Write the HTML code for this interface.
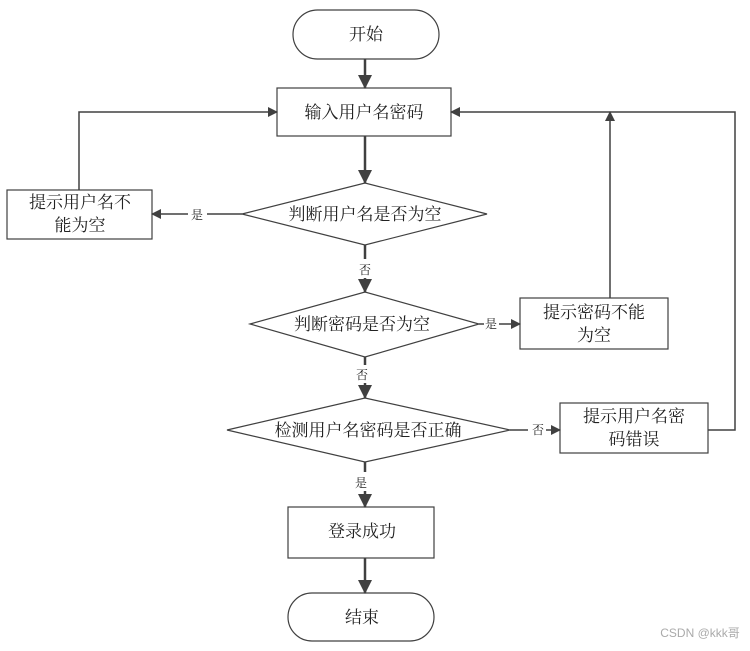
<!DOCTYPE html>
<html><head><meta charset="utf-8"><style>
body{margin:0;background:#fff;}
svg text{font-family:"Liberation Serif","Noto Serif CJK SC",serif;fill:#222;}
</style></head><body>
<svg width="750" height="646" viewBox="0 0 750 646" xmlns="http://www.w3.org/2000/svg">
<defs>
<marker id="a" markerWidth="10" markerHeight="10" refX="9" refY="5" orient="auto" markerUnits="userSpaceOnUse">
<path d="M0,0 L10,5 L0,10 z" fill="#404040"/></marker>
<marker id="b" markerWidth="14" markerHeight="14" refX="13" refY="7" orient="auto" markerUnits="userSpaceOnUse">
<path d="M0,0 L14,7 L0,14 z" fill="#404040"/></marker>
</defs>
<g fill="#fff" stroke="#404040" stroke-width="1.2">
<rect x="293" y="10" width="146" height="49" rx="24.5"/>
<rect x="277" y="88" width="174" height="48"/>
<polygon points="242,214 365,183 487,214 365,245"/>
<rect x="7" y="190" width="145" height="49"/>
<polygon points="250,324 365,292 479,324 365,357"/>
<rect x="520" y="298" width="148" height="51"/>
<polygon points="227,430 365,398 510,430 365,462"/>
<rect x="560" y="403" width="148" height="50"/>
<rect x="288" y="507" width="146" height="51"/>
<rect x="288" y="593" width="146" height="48" rx="24"/>
</g>
<g stroke="#404040" fill="none">
<line x1="365" y1="59" x2="365" y2="88" stroke-width="2.5" marker-end="url(#b)"/>
<line x1="365" y1="136" x2="365" y2="183" stroke-width="2.5" marker-end="url(#b)"/>
<line x1="365" y1="245" x2="365" y2="259" stroke-width="2.5"/>
<line x1="365" y1="278" x2="365" y2="292" stroke-width="2.5" marker-end="url(#b)"/>
<line x1="365" y1="357" x2="365" y2="365" stroke-width="2.5"/>
<line x1="365" y1="383" x2="365" y2="398" stroke-width="2.5" marker-end="url(#b)"/>
<line x1="365" y1="462" x2="365" y2="472" stroke-width="2.5"/>
<line x1="365" y1="491" x2="365" y2="507" stroke-width="2.5" marker-end="url(#b)"/>
<line x1="365" y1="558" x2="365" y2="593" stroke-width="2.5" marker-end="url(#b)"/>
<line x1="242" y1="214" x2="207" y2="214" stroke-width="1.5"/>
<line x1="188" y1="214" x2="152" y2="214" stroke-width="1.5" marker-end="url(#a)"/>
<polyline points="79,190 79,112 277,112" stroke-width="1.5" marker-end="url(#a)"/>
<line x1="479" y1="324" x2="484" y2="324" stroke-width="1.5"/>
<line x1="499" y1="324" x2="520" y2="324" stroke-width="1.5" marker-end="url(#a)"/>
<line x1="610" y1="298" x2="610" y2="112" stroke-width="1.5" marker-end="url(#a)"/>
<line x1="510" y1="430" x2="528" y2="430" stroke-width="1.5"/>
<line x1="546" y1="430" x2="560" y2="430" stroke-width="1.5" marker-end="url(#a)"/>
<polyline points="708,430 735,430 735,112 451,112" stroke-width="1.5" marker-end="url(#a)"/>
</g>
<g font-size="17" text-anchor="middle">
<text x="366" y="40">开始</text>
<text x="364" y="118">输入用户名密码</text>
<text x="365" y="220">判断用户名是否为空</text>
<text x="80" y="208">提示用户名不</text>
<text x="80" y="231">能为空</text>
<text x="362" y="330">判断密码是否为空</text>
<text x="594" y="318">提示密码不能</text>
<text x="594" y="341">为空</text>
<text x="368" y="436">检测用户名密码是否正确</text>
<text x="634" y="422">提示用户名密</text>
<text x="634" y="445">码错误</text>
<text x="362" y="537">登录成功</text>
<text x="362" y="623">结束</text>
</g>
<g font-size="12" text-anchor="middle">
<text x="197" y="219">是</text>
<text x="365" y="274">否</text>
<text x="491" y="328">是</text>
<text x="362" y="379">否</text>
<text x="538" y="434">否</text>
<text x="361" y="487">是</text>
</g>
<text x="700" y="637" font-size="12" text-anchor="middle" style="font-family:'Liberation Sans','Noto Sans CJK SC',sans-serif;fill:#aaa">CSDN @kkk哥</text>
</svg>
</body></html>
